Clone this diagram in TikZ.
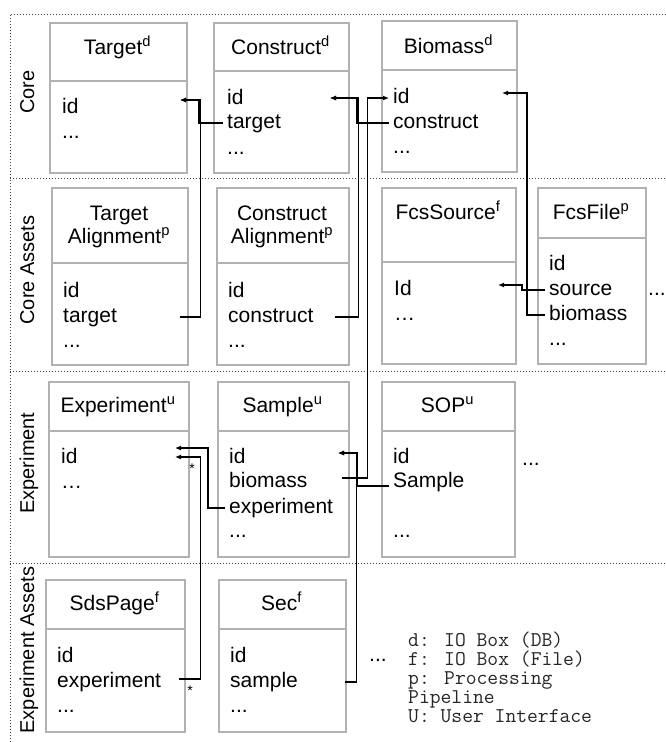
\documentclass[tikz,border=0pt]{standalone}
\usepackage{fontspec}
\setmainfont{Liberation Sans}
\usetikzlibrary{arrows.meta}

\definecolor{borde}{RGB}{178,178,178}

\begin{document}
\begin{tikzpicture}[x=1pt,y=-1pt,
        caja/.style={draw=borde, line width=1.6pt, inner sep=0pt, anchor=north west},
        cab/.style={anchor=base, align=center, inner sep=0pt, font=\fontsize{21}{23}\selectfont},
        campo/.style={anchor=base west, inner xsep=4pt, text height=14.5pt, text depth=4.5pt, font=\fontsize{21}{24}\selectfont},
        carril/.style={rotate=90, inner sep=0pt, text height=14.3pt, text depth=4.2pt, font=\fontsize{20}{24}\selectfont},
        flecha/.style={-{Latex[length=6pt,width=5pt]}, line width=1.2pt},
        punteado/.style={draw=black!75, line width=1pt, dash pattern=on 1pt off 2pt},
        ast/.style={anchor=base, inner sep=0pt, font=\fontsize{14}{14}\selectfont}]
    \useasboundingbox (0,0) rectangle (666,742);

    % Carriles punteados
    \draw[punteado] (666,14) -- (10,14) -- (10,742);
    \draw[punteado] (10,178) -- (666,178);
    \draw[punteado] (10,371) -- (666,371);
    \draw[punteado] (10,563) -- (666,563);

    \node[carril] (l-core) at (29,92) {Core};
    \node[carril] (l-coreas) at (29,270) {Core Assets};
    \node[carril] (l-exp) at (29,463) {Experiment};
    \node[carril] (l-expas) at (29,650) {Experiment Assets};

    % Core
    \node[caja, minimum width=137, minimum height=150] (tgt) at (49,22) {};
    \draw[caja] (49,81) -- (186,81);
    \node[cab] (tgt-h) at (117.5,54) {Target\textsuperscript{d}};
    \node[campo] (tgt-id) at (58,113) {id};
    \node[campo] (tgt-etc) at (58,138) {...};

    \node[caja, minimum width=135, minimum height=150] (con) at (213,22) {};
    \draw[caja] (213,71) -- (348,71);
    \node[cab] (con-h) at (280.5,54) {Construct\textsuperscript{d}};
    \node[campo] (con-id) at (223,104) {id};
    \node[campo] (con-target) at (223,128) {target};
    \node[campo] (con-etc) at (223,154) {...};

    \node[caja, minimum width=135, minimum height=151] (bio) at (381,20) {};
    \draw[caja] (381,70) -- (516,70);
    \node[cab] (bio-h) at (448.5,53) {Biomass\textsuperscript{d}};
    \node[campo] (bio-id) at (389,103) {id};
    \node[campo] (bio-construct) at (389,128) {construct};
    \node[campo] (bio-etc) at (389,153) {...};

    % Core Assets
    \node[caja, minimum width=136, minimum height=177] (tal) at (51,187) {};
    \draw[caja] (51,263) -- (187,263);
    \node[cab] (tal-h) at (119,243) {Target\\Alignment\textsuperscript{p}};
    \node[campo] (tal-id) at (59,297) {id};
    \node[campo] (tal-target) at (59,322) {target};
    \node[campo] (tal-etc) at (59,347) {...};

    \node[caja, minimum width=132, minimum height=177] (cal) at (216,187) {};
    \draw[caja] (216,263) -- (348,263);
    \node[cab] (cal-h) at (282,243) {Construct\\Alignment\textsuperscript{p}};
    \node[campo] (cal-id) at (224,297) {id};
    \node[campo] (cal-construct) at (224,322) {construct};
    \node[campo] (cal-etc) at (224,347) {...};

    \node[caja, minimum width=134, minimum height=176] (fsr) at (381,187) {};
    \draw[caja] (381,262) -- (515,262);
    \node[cab] (fsr-h) at (448,219) {FcsSource\textsuperscript{f}};
    \node[campo] (fsr-id) at (390,295) {Id};
    \node[campo] (fsr-etc) at (390,320) {…};

    \node[caja, minimum width=108, minimum height=176] (ffl) at (537,187) {};
    \draw[caja] (537,238) -- (645,238);
    \node[cab] (ffl-h) at (591,219) {FcsFile\textsuperscript{p}};
    \node[campo] (ffl-id) at (545,270) {id};
    \node[campo] (ffl-source) at (545,295) {source};
    \node[campo] (ffl-biomass) at (545,320) {biomass};
    \node[campo] (ffl-etc) at (545,345) {...};
    \node[campo] (fila2-etc) at (644,295) {...};

    % Experiment
    \node[caja, minimum width=140, minimum height=175] (exp) at (48,381) {};
    \draw[caja] (48,431) -- (188,431);
    \node[cab] (exp-h) at (118,412) {Experiment\textsuperscript{u}};
    \node[campo] (exp-id) at (57,463) {id};
    \node[campo] (exp-etc) at (57,488) {…};

    \node[caja, minimum width=131, minimum height=175] (sam) at (217,381) {};
    \draw[caja] (217,431) -- (348,431);
    \node[cab] (sam-h) at (282.5,412) {Sample\textsuperscript{u}};
    \node[campo] (sam-id) at (225,463) {id};
    \node[campo] (sam-biomass) at (225,487) {biomass};
    \node[campo] (sam-experiment) at (225,513) {experiment};
    \node[campo] (sam-etc) at (225,537) {...};

    \node[caja, minimum width=133, minimum height=175] (sop) at (381,381) {};
    \draw[caja] (381,431) -- (514,431);
    \node[cab] (sop-h) at (447.5,412) {SOP\textsuperscript{u}};
    \node[campo] (sop-id) at (389,463) {id};
    \node[campo] (sop-sample) at (389,487) {Sample};
    \node[campo] (sop-etc) at (389,537) {...};
    \node[campo] (fila3-etc) at (518,465) {...};

    % Experiment Assets
    \node[caja, minimum width=139, minimum height=152] (sds) at (45,579) {};
    \draw[caja] (45,629) -- (184,629);
    \node[cab] (sds-h) at (114.5,610) {SdsPage\textsuperscript{f}};
    \node[campo] (sds-id) at (53,662) {id};
    \node[campo] (sds-experiment) at (53,687) {experiment};
    \node[campo] (sds-etc) at (53,712) {...};

    \node[caja, minimum width=127, minimum height=152] (sec) at (218,579) {};
    \draw[caja] (218,629) -- (345,629);
    \node[cab] (sec-h) at (281.5,610) {Sec\textsuperscript{f}};
    \node[campo] (sec-id) at (226,662) {id};
    \node[campo] (sec-sample) at (226,687) {sample};
    \node[campo] (sec-etc) at (226,712) {...};
    \node[campo] (fila4-etc) at (365,661) {...};

    % Leyenda
    \node[anchor=north west, align=left, inner sep=0pt, text=black!85,
        font=\ttfamily\fontsize{21}{19}\selectfont] (ley) at (408,632)
        {d: IO Box (DB)\\f: IO Box (File)\\p: Processing\\Pipeline\\U: User Interface};

    % Puntos de llegada de las flechas
    \coordinate (tgt-in) at (180,100);
    \coordinate (con-in) at (330,98);
    \coordinate (bio-in) at (502,93);
    \coordinate (fsr-in) at (498,285);
    \coordinate (exp-in) at (175,448);
    \coordinate (exp-in2) at (175,457);
    \coordinate (sam-in) at (338,453);

    % Referencias
    \draw[flecha] (con-target.west) -- ++(-24,0) |- (tgt-in);
    \draw[flecha] ([xshift=-9]tal-target -| tal.east) -- ++(21,0) |- (tgt-in);
    \draw[flecha] ([xshift=-15]cal-construct -| cal.east) -- ++(24,0) |- (con-in);
    \draw[flecha] (bio-construct.west) -- ++(-32,0) |- (con-in);
    \draw[flecha] ([xshift=-8,yshift=4]sam-biomass -| sam.east) -- ++(26,0) |- (bio-id.west);
    \draw[flecha] (ffl-biomass.west) -- ++(-18,0) |- (bio-in);
    \draw[flecha] (ffl-source.west) -- ++(-23,0) |- (fsr-in);
    \draw[flecha] (sam-experiment.west) -- ++(-17,0) |- (exp-in);
    \draw[flecha] ([xshift=-7,yshift=3]sds-experiment -| sds.east) -- ++(22,0) |- (exp-in2);
    \draw[flecha] ([yshift=-4]sop-sample.west) -- ++(-32,0) |- (sam-in);
    \draw[flecha] ([xshift=-2]sec-sample -| sec.east) -- ++(12,0) |- (sam-in);

    \node[ast] (ast1) at (192,473) {*};
    \node[ast] (ast2) at (190,695) {*};
\end{tikzpicture}
\end{document}
